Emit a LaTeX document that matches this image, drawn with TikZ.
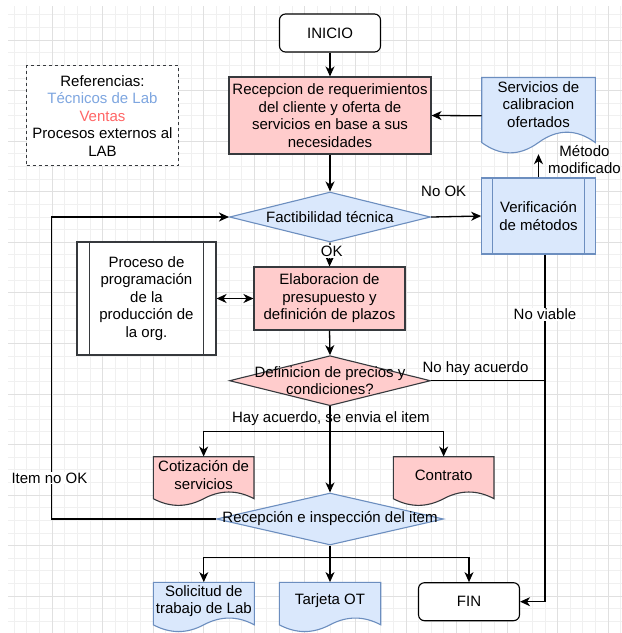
\documentclass[tikz,border=0pt]{standalone}
\usepackage{fontspec}
\setmainfont{Liberation Sans}
\usetikzlibrary{arrows.meta,shapes.geometric,calc}

\definecolor{pinkfill}{HTML}{FFCCCC}
\definecolor{darkline}{HTML}{36393D}
\definecolor{bluefill}{HTML}{DAE8FC}
\definecolor{blueline}{HTML}{6C8EBF}
\definecolor{gridminor}{HTML}{F0F0F0}
\definecolor{gridmajor}{HTML}{E0E0E0}
\definecolor{legblue}{HTML}{7EA6E0}
\definecolor{legred}{HTML}{FF6666}

\tikzset{
  txt/.style={font=\fontsize{15}{17.5}\selectfont, align=center, inner sep=0pt},
  salesbox/.style={txt, draw=darkline, fill=pinkfill, line width=1.1pt},
  labbox/.style={txt, draw=blueline, fill=bluefill, line width=1.1pt},
  extbox/.style={txt, draw=darkline, fill=white, line width=1.1pt},
  salesdoc/.style={draw=darkline, fill=pinkfill, line width=1.1pt},
  labdoc/.style={draw=blueline, fill=bluefill, line width=1.1pt},
  terminal/.style={txt, draw=black, fill=white, rounded corners=6pt, line width=1.1pt},
  decision/.style={diamond, inner sep=0pt, line width=1.1pt},
  conn/.style={draw=black, line width=1.3pt, -{Stealth[length=10pt,width=9pt,inset=3pt]}},
  plainconn/.style={draw=black, line width=1.3pt},
  twoway/.style={draw=black, line width=1.3pt, {Stealth[length=10pt,width=9pt,inset=3pt]}-{Stealth[length=10pt,width=9pt,inset=3pt]}},
  edgelabel/.style={txt},
  edgelabelbg/.style={txt, fill=white, inner sep=1pt},
}

% document shape: name, left x, top y, width, height, style, text y offset, text
\newcommand\drawdoc[8]{%
  \path[#6] (#2,#3) -- ({#2+#4},#3) -- ({#2+#4},{#3+0.85*#5})
    .. controls ({#2+0.8333*#4},{#3+0.67*#5}) and ({#2+0.6667*#4},{#3+0.67*#5}) .. ({#2+0.5*#4},{#3+0.85*#5})
    .. controls ({#2+0.3333*#4},{#3+1.03*#5}) and ({#2+0.1667*#4},{#3+1.03*#5}) .. (#2,{#3+0.85*#5}) -- cycle;
  \node[inner sep=0pt, minimum width=#4pt, minimum height=#5pt] (#1) at ({#2+0.5*#4},{#3+0.5*#5}) {};
  \node[txt] (#1-text) at ({#2+0.5*#4},{#3+#7}) {#8};
}

\begin{document}
\begin{tikzpicture}[x=1pt,y=-1pt]
\useasboundingbox (0,0) rectangle (622,633);
\fill[white] (0,0) rectangle (622,633);

% background grid
\foreach \k in {0,...,48} {
  \draw[gridminor, line width=0.8pt] ({14.08+12.64*\k},6) -- ({14.08+12.64*\k},633);
  \draw[gridminor, line width=0.8pt] (8,{14.72+12.64*\k}) -- (622,{14.72+12.64*\k});
}
\foreach \m in {0,...,11} {
  \draw[gridmajor, line width=0.8pt] ({52+50.56*\m},6) -- ({52+50.56*\m},633);
  \draw[gridmajor, line width=0.8pt] (8,{40+50.56*\m}) -- (622,{40+50.56*\m});
}

% legend
\node[txt, draw=darkline, dash pattern=on 3pt off 3pt, line width=1.1pt,
      minimum width=151.6pt, minimum height=100pt, fill=white] (legend) at (102.5,115.7)
  {Referencias:\\ \textcolor{legblue}{Técnicos de Lab}\\ \textcolor{legred}{Ventas}\\ Procesos externos al\\ LAB};

% start / end
\node[terminal, minimum width=101pt, minimum height=38pt] (start) at (330,33) {INICIO};
\node[terminal, minimum width=101pt, minimum height=38pt] (fin) at (469,601.7) {FIN};

% sales steps
\node[salesbox, minimum width=202pt, minimum height=77pt] (recv) at (330,115.5)
  {Recepcion de requerimientos\\del cliente y oferta de\\servicios en base a sus\\necesidades};
\node[salesbox, minimum width=151pt, minimum height=63pt] (elab) at (329.5,298.5)
  {Elaboracion de\\presupuesto y\\definición de plazos};

% external process
\node[extbox, minimum width=139pt, minimum height=113pt] (proc) at (146.5,298.5)
  {Proceso de\\programación\\de la\\producción de\\la org.};
\draw[darkline, line width=1.1pt] ([xshift=13.4pt]proc.north west) -- ([xshift=13.4pt]proc.south west);
\draw[darkline, line width=1.1pt] ([xshift=-13.4pt]proc.north east) -- ([xshift=-13.4pt]proc.south east);

% lab process
\node[labbox, minimum width=113.6pt, minimum height=76pt] (verif) at (538.5,216)
  {Verificación\\de métodos};
\draw[blueline, line width=1.1pt] ([xshift=11pt]verif.north west) -- ([xshift=11pt]verif.south west);
\draw[blueline, line width=1.1pt] ([xshift=-11pt]verif.north east) -- ([xshift=-11pt]verif.south east);

% decisions
\node[decision, draw=blueline, fill=bluefill, minimum width=201pt, minimum height=50pt,
      label={[txt]center:Factibilidad técnica}] (fact) at (330,217) {};
\node[decision, draw=darkline, fill=pinkfill, minimum width=201pt, minimum height=50pt,
      label={[txt]center:Definicion de precios y\\condiciones?}] (defi) at (330,380.7) {};
\node[decision, draw=blueline, fill=bluefill, minimum width=227pt, minimum height=52pt,
      label={[txt]center:Recepción e inspección del item}] (recep) at (330,519) {};

% documents
\drawdoc{serv}{481.7}{77.5}{113.6}{76.5}{labdoc}{27}{Servicios de\\calibracion\\ofertados}
\drawdoc{coti}{153.3}{456.7}{100.7}{49.4}{salesdoc}{18.5}{Cotización de\\servicios}
\drawdoc{contr}{393.3}{456.7}{100.7}{49.4}{salesdoc}{18.5}{Contrato}
\drawdoc{soli}{153.3}{582.3}{101}{50}{labdoc}{18.7}{Solicitud de\\trabajo de Lab}
\drawdoc{tarj}{279.3}{582.3}{101.4}{50}{labdoc}{18}{Tarjeta OT}

% helper points
\coordinate (vx) at ([xshift=6.5pt]verif.south);
\coordinate (lx) at (51.7,519);
\coordinate (br1) at (330,431.3);
\coordinate (br2) at (330,557.3);

% connectors
\draw[conn] (start.south) -- (recv.north);
\draw[conn] (serv.west) -- (recv.east);
\draw[conn] (recv.south) -- (fact.north);
\draw[conn] (fact.east) -- (verif.west);
\draw[conn] (verif.north) -- (serv.south);
\draw[conn] (fact.south) -- (elab.north);
\draw[twoway] (proc.east) -- (elab.west);
\draw[conn] (elab.south) -- (defi.north);
\draw[plainconn] (defi.east) -- (defi.east -| vx);
\draw[conn] (vx) |- (fin.east);
\draw[conn] (defi.south) -- (recep.north);
\draw[conn] (br1) -| (coti.north);
\draw[conn] (br1) -| (contr.north);
\draw[conn] (recep.west) -- (lx) |- (fact.west);
\draw[conn] (recep.south) -- (tarj.north);
\draw[conn] (br2) -| (soli.north);
\draw[conn] (br2) -| (fin.north);

% connector labels
\node[edgelabel] (lnook) at (443.7,191.7) {No OK};
\node[edgelabel] (lmod) at (584.5,159.5) {Método\\modificado};
\node[edgelabelbg] (lok) at (331.7,251.5) {OK};
\node[edgelabelbg] (lnoviable) at (545,314.5) {No viable};
\node[edgelabel] (lnoacuerdo) at (475.5,368.3) {No hay acuerdo};
\node[edgelabel] (lacuerdo) at (330.9,419) {Hay acuerdo, se envia el item};
\node[edgelabelbg] (lnoitem) at (49.5,478) {Item no OK};
\end{tikzpicture}
\end{document}
